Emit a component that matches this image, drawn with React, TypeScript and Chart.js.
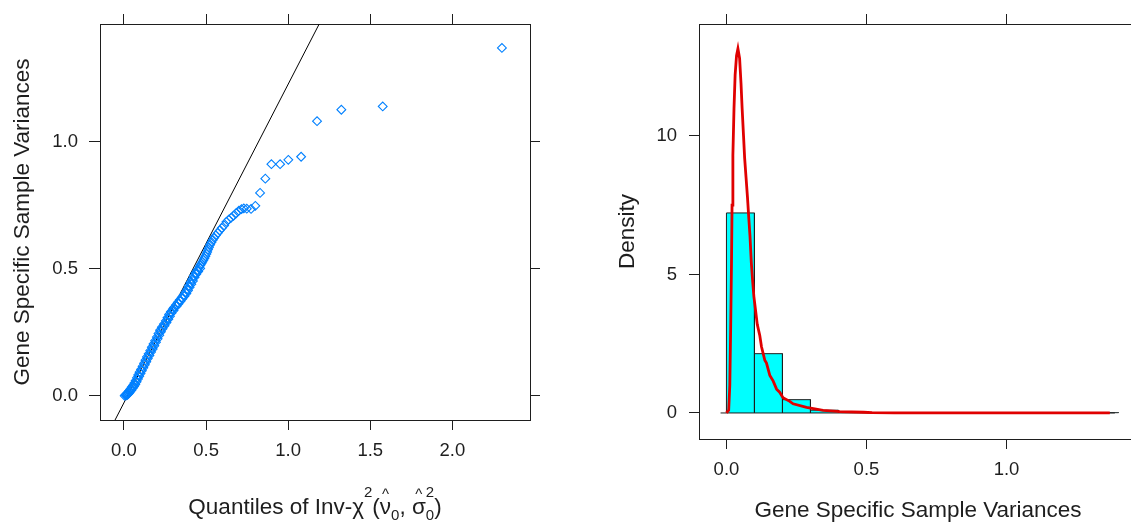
import React, { useEffect, useRef } from "react";
import { Chart, registerables } from "chart.js";

Chart.register(...registerables);

// ---------- Left panel: Q-Q plot ----------
const qqX = [
  0.004, 0.016, 0.008, 0.020, 0.012, 0.025, 0.018, 0.031, 0.024, 0.037, 0.031, 0.045, 0.039, 0.053,
  0.047, 0.061, 0.055, 0.069, 0.063, 0.077, 0.071, 0.085, 0.079, 0.093, 0.087, 0.101, 0.095, 0.109,
  0.104, 0.118, 0.113, 0.127, 0.122, 0.136, 0.131, 0.145, 0.140, 0.155, 0.150, 0.165, 0.160, 0.175,
  0.170, 0.185, 0.180, 0.195, 0.190, 0.205, 0.200, 0.215, 0.210, 0.225, 0.220, 0.235, 0.231, 0.247,
  0.243, 0.259, 0.255, 0.270, 0.265, 0.280, 0.275, 0.290, 0.286, 0.302, 0.298,
  0.304, 0.320, 0.316, 0.332, 0.328, 0.344, 0.340, 0.356, 0.352, 0.368, 0.364, 0.380, 0.375, 0.390,
  0.385, 0.400, 0.395, 0.410, 0.405, 0.420, 0.415, 0.430, 0.425, 0.440, 0.436, 0.452, 0.448, 0.464,
  0.460, 0.466, 0.472, 0.478, 0.484, 0.490, 0.496, 0.502, 0.507, 0.512, 0.518, 0.525, 0.533, 0.541,
  0.550, 0.560, 0.571, 0.583, 0.596, 0.610, 0.624, 0.638, 0.652, 0.667, 0.683, 0.700, 0.716, 0.730,
  0.748, 0.774,
  0.800, 0.829, 0.861, 0.898, 0.951, 1.001, 1.079, 1.176, 1.324, 1.576, 2.302,
];
const qqY = [
  0.000, 0.002, 0.003, 0.004, 0.005, 0.007, 0.009, 0.011, 0.013, 0.016, 0.019, 0.022, 0.026, 0.030,
  0.034, 0.037, 0.041, 0.045, 0.050, 0.055, 0.060, 0.066, 0.071, 0.077, 0.082, 0.088, 0.093, 0.099,
  0.104, 0.110, 0.116, 0.122, 0.128, 0.134, 0.140, 0.147, 0.153, 0.159, 0.165, 0.172, 0.178, 0.184,
  0.191, 0.197, 0.204, 0.211, 0.217, 0.224, 0.231, 0.238, 0.245, 0.252, 0.258, 0.264, 0.270, 0.276,
  0.282, 0.288, 0.295, 0.301, 0.307, 0.313, 0.320, 0.326, 0.331, 0.336, 0.341,
  0.347, 0.352, 0.357, 0.362, 0.367, 0.372, 0.377, 0.382, 0.387, 0.392, 0.397, 0.402, 0.408, 0.414,
  0.420, 0.427, 0.433, 0.439, 0.446, 0.452, 0.459, 0.466, 0.472, 0.478, 0.484, 0.489, 0.495, 0.501,
  0.507, 0.514, 0.520, 0.527, 0.534, 0.541, 0.549, 0.558, 0.566, 0.575, 0.584, 0.594, 0.604, 0.613,
  0.622, 0.631, 0.640, 0.650, 0.660, 0.670, 0.684, 0.693, 0.700, 0.708, 0.718, 0.728, 0.734, 0.737,
  0.736, 0.735,
  0.747, 0.798, 0.854, 0.911, 0.911, 0.928, 0.940, 1.080, 1.125, 1.138, 1.368,
];
const qqLineX = [-0.2, 1.3];
const qqLineY = [-0.2775, 1.601];
const qqXTicks = [0, 0.5, 1, 1.5, 2];
const qqXTickLabels = ["0.0", "0.5", "1.0", "1.5", "2.0"];
const qqYTicks = [0, 0.5, 1];
const qqYTickLabels = ["0.0", "0.5", "1.0"];

// ---------- Right panel: histogram + density ----------
const binEdges = [0, 0.1, 0.2, 0.3, 0.4, 0.5, 0.6, 0.7, 0.8, 0.9, 1.0, 1.1, 1.2, 1.3, 1.4];
const binDensity = [7.22, 2.14, 0.48, 0.1, 0.03, 0.01, 0.01, 0.01, 0.01, 0.01, 0.01, 0.01, 0, 0.01];
const baselineX = [-0.021, 1.387];
const curveX = [
  0.0, 0.008, 0.012, 0.015, 0.018, 0.02, 0.023, 0.027, 0.031, 0.036, 0.041, 0.047, 0.052, 0.056,
  0.061, 0.065, 0.07, 0.075, 0.08, 0.084, 0.089, 0.094, 0.098, 0.104, 0.11, 0.119, 0.125, 0.137,
  0.143, 0.155, 0.167, 0.179, 0.19, 0.202, 0.226, 0.238, 0.286, 0.345, 0.405, 0.49, 0.52, 0.6, 1.0,
  1.369,
];
const curveY = [
  0.0, 0.1, 1.0, 3.0, 5.4, 7.5, 9.3, 11.0, 12.2, 12.9, 13.15, 12.8, 11.9, 11.0, 10.0, 9.2, 8.5, 7.8,
  7.0, 6.4, 5.4, 4.7, 4.2, 3.7, 3.2, 2.8, 2.4, 1.9, 1.8, 1.35, 1.15, 0.86, 0.75, 0.55, 0.42, 0.33,
  0.2, 0.09, 0.05, 0.025, 0.01, 0.005, 0.0, 0.0,
];
const histXTicks = [0, 0.5, 1];
const histXTickLabels = ["0.0", "0.5", "1.0"];
const histYTicks = [0, 5, 10];
const histYTickLabels = ["0", "5", "10"];

const FONT = "'Liberation Sans', Arial, Helvetica, sans-serif";
const INK = "#1e1e1e";
const TICK_SIZE = 18.5;
const TITLE_SIZE = 22.5;

type Pos = "left" | "right" | "top" | "bottom";

function makeScale(
  pos: Pos,
  min: number,
  max: number,
  tickVals: number[],
  tickLabels: string[],
  size: number,
  showLabels: boolean,
  tickLen: number,
  pad: number,
  title?: { text: string; padding: any }
): any {
  return {
    type: "linear",
    position: pos,
    min,
    max,
    afterBuildTicks: (s: any) => {
      s.ticks = tickVals.map((v) => ({ value: v }));
    },
    afterFit: (s: any) => {
      if (pos === "left" || pos === "right") s.width = size;
      else s.height = size;
    },
    grid: {
      drawOnChartArea: false,
      drawTicks: true,
      tickLength: tickLen,
      color: INK,
      tickColor: INK,
      lineWidth: 1,
    },
    border: { display: true, color: INK, width: 1 },
    ticks: {
      display: showLabels,
      autoSkip: false,
      maxRotation: 0,
      minRotation: 0,
      padding: pad,
      color: INK,
      font: { family: FONT, size: TICK_SIZE },
      callback: (_v: any, i: number) => tickLabels[i],
    },
    title: title
      ? {
          display: true,
          text: title.text,
          color: INK,
          font: { family: FONT, size: TITLE_SIZE, lineHeight: 1.2 },
          padding: title.padding,
        }
      : { display: false },
  };
}

const mathTitle = {
  id: "mathTitle",
  afterDraw(chart: any) {
    const { ctx, chartArea } = chart;
    const big = TITLE_SIZE;
    const small = 15;
    const b = chart.height - 10;
    const groups: { t: string; s: number; dy: number; hat?: boolean }[][] = [
      [{ t: "Quantiles of Inv-", s: big, dy: 0 }],
      [{ t: "χ", s: big, dy: 0 }],
      [{ t: "2", s: small, dy: -17 }],
      [{ t: "(", s: big, dy: 0 }],
      [{ t: "ν", s: big, dy: 0, hat: true }],
      [{ t: "0", s: small, dy: 6 }],
      [{ t: ", ", s: big, dy: 0 }],
      [{ t: "σ", s: big, dy: 0, hat: true }],
      [
        { t: "2", s: small, dy: -17 },
        { t: "0", s: small, dy: 6 },
      ],
      [{ t: ")", s: big, dy: 0 }],
    ];
    ctx.save();
    ctx.fillStyle = INK;
    ctx.textBaseline = "alphabetic";
    ctx.textAlign = "left";
    const widths = groups.map((g) =>
      Math.max(
        ...g.map((p) => {
          ctx.font = `${p.s}px ${FONT}`;
          return ctx.measureText(p.t).width;
        })
      )
    );
    const total = widths.reduce((a, c) => a + c, 0);
    let x = (chartArea.left + chartArea.right) / 2 - total / 2;
    groups.forEach((g, gi) => {
      g.forEach((p) => {
        ctx.font = `${p.s}px ${FONT}`;
        ctx.fillText(p.t, x, b + p.dy);
        if (p.hat) {
          const w = ctx.measureText(p.t).width;
          ctx.font = `${small}px ${FONT}`;
          const hw = ctx.measureText("^").width;
          ctx.fillText("^", x + w / 2 - hw / 2, b - 15);
        }
      });
      x += widths[gi];
    });
    ctx.restore();
  },
};

function QQChart() {
  const ref = useRef<HTMLCanvasElement | null>(null);
  useEffect(() => {
    if (!ref.current) return;
    const points = qqX.map((x, i) => ({ x, y: qqY[i] }));
    const line = qqLineX.map((x, i) => ({ x, y: qqLineY[i] }));
    const chart = new Chart(ref.current, {
      type: "scatter",
      data: {
        datasets: [
          {
            data: points,
            pointStyle: "rectRot",
            pointRadius: 4.4,
            pointBorderWidth: 1.1,
            pointBorderColor: "#0080ff",
            pointBackgroundColor: "rgba(0,0,0,0)",
            showLine: false,
            clip: 0,
            order: 0,
          } as any,
          {
            type: "line",
            data: line,
            borderColor: "#000",
            borderWidth: 1,
            pointRadius: 0,
            fill: false,
            clip: 0,
            order: 1,
          } as any,
        ],
      },
      options: {
        animation: false,
        responsive: false,
        events: [],
        layout: { padding: 0 },
        plugins: { legend: { display: false }, tooltip: { enabled: false } },
        scales: {
          x: makeScale("bottom", -0.146, 2.473, qqXTicks, qqXTickLabels, 104, true, 10, 10),
          x2: makeScale("top", -0.146, 2.473, qqXTicks, qqXTickLabels, 24, false, 10, 0),
          y: makeScale("left", -0.095, 1.462, qqYTicks, qqYTickLabels, 100, true, 11, 11, {
            text: "Gene Specific Sample Variances",
            padding: { top: 9.5, bottom: 0 },
          }),
          y2: makeScale("right", -0.095, 1.462, qqYTicks, qqYTickLabels, 30, false, 10, 0),
        },
      } as any,
      plugins: [mathTitle],
    });
    return () => chart.destroy();
  }, []);
  return <canvas ref={ref} width={560} height={524} style={{ display: "block" }} />;
}

function HistChart() {
  const ref = useRef<HTMLCanvasElement | null>(null);
  useEffect(() => {
    if (!ref.current) return;
    const curve = curveX.map((x, i) => ({ x, y: curveY[i] }));
    const base = baselineX.map((x) => ({ x, y: 0 }));
    const bars = binDensity.map((h, i) => ({
      type: "line",
      data: [
        { x: binEdges[i], y: 0 },
        { x: binEdges[i], y: h },
        { x: binEdges[i + 1], y: h },
        { x: binEdges[i + 1], y: 0 },
      ],
      borderColor: INK,
      borderWidth: 1,
      backgroundColor: "#00ffff",
      fill: "origin",
      pointRadius: 0,
      tension: 0,
      order: 10 + i,
    }));
    const chart = new Chart(ref.current, {
      type: "line",
      data: {
        datasets: [
          {
            data: curve,
            borderColor: "#e00000",
            borderWidth: 2.8,
            pointRadius: 0,
            fill: false,
            tension: 0,
            order: 0,
          },
          {
            data: base,
            borderColor: INK,
            borderWidth: 1,
            pointRadius: 0,
            fill: false,
            order: 1,
          },
          ...bars,
        ] as any,
      },
      options: {
        animation: false,
        responsive: false,
        events: [],
        layout: { padding: 0 },
        plugins: { legend: { display: false }, tooltip: { enabled: false } },
        scales: {
          x: makeScale("bottom", -0.098, 1.466, histXTicks, histXTickLabels, 85, true, 10, 10, {
            text: "Gene Specific Sample Variances",
            padding: { top: 0, bottom: 0 },
          }),
          x2: makeScale("top", -0.098, 1.466, histXTicks, histXTickLabels, 24, false, 10, 0),
          y: makeScale("left", -0.94, 14.04, histYTicks, histYTickLabels, 109, true, 10, 12, {
            text: "Density",
            padding: { top: 24.5, bottom: 0 },
          }),
          y2: makeScale("right", -0.94, 14.04, histYTicks, histYTickLabels, 33, false, 10, 0),
        },
      } as any,
    });
    return () => chart.destroy();
  }, []);
  return <canvas ref={ref} width={580} height={524} style={{ display: "block" }} />;
}

export default function App() {
  return (
    <div
      style={{
        position: "fixed",
        left: 0,
        top: 0,
        width: 1131,
        height: 524,
        overflow: "hidden",
        background: "#fff",
      }}
    >
      <div style={{ position: "absolute", left: 0, top: 0 }}>
        <QQChart />
      </div>
      <div style={{ position: "absolute", left: 590, top: 0 }}>
        <HistChart />
      </div>
    </div>
  );
}
